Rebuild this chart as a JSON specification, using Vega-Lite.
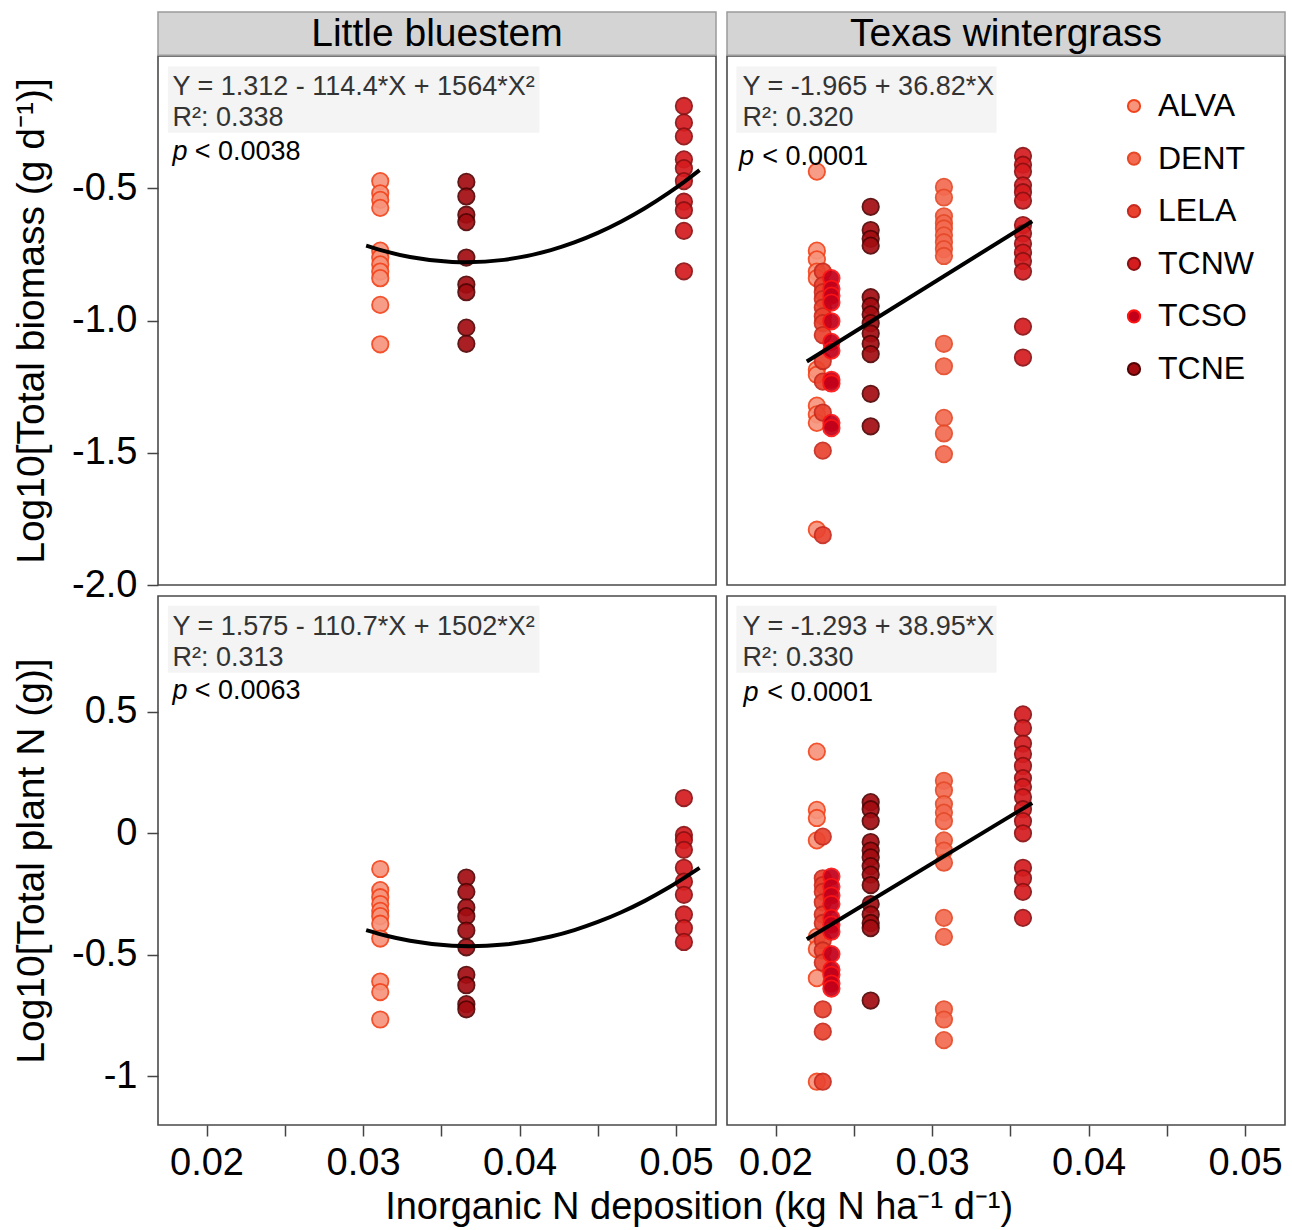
{
  "$schema": "https://vega.github.io/schema/vega-lite/v6.json",
  "padding": {"left": 11, "top": 10, "right": 4, "bottom": 4},
  "background": "white",
  "config": {
    "font": "Liberation Sans",
    "view": {"stroke": "#4a4a4a", "strokeWidth": 1.6},
    "axis": {"labelFont": "Liberation Sans", "labelFontSize": 38, "labelColor": "black", "titleFont": "Liberation Sans", "titleFontSize": 39, "titleFontWeight": "normal", "titleColor": "black", "tickColor": "#444", "tickSize": 11, "tickWidth": 1.5, "domain": false, "grid": false, "labelPadding": 8},
    "axisY": {"titlePadding": 20, "labelPadding": 10},
    "legend": {"orient": "none", "legendX": 960, "legendY": 34, "labelFont": "Liberation Sans", "labelFontSize": 32, "labelColor": "black", "symbolType": "circle", "symbolSize": 150, "symbolStrokeWidth": 2, "rowPadding": 20.6, "labelOffset": 8, "padding": 0, "symbolOpacity": 1}
  },
  "datasets": {
    "pts": [
      {"panel": "TL", "site": "ALVA", "dep": 0.0311, "val": -0.473},
      {"panel": "TL", "site": "ALVA", "dep": 0.0311, "val": -0.519},
      {"panel": "TL", "site": "ALVA", "dep": 0.0311, "val": -0.544},
      {"panel": "TL", "site": "ALVA", "dep": 0.0311, "val": -0.574},
      {"panel": "TL", "site": "ALVA", "dep": 0.0311, "val": -0.736},
      {"panel": "TL", "site": "ALVA", "dep": 0.0311, "val": -0.762},
      {"panel": "TL", "site": "ALVA", "dep": 0.0311, "val": -0.788},
      {"panel": "TL", "site": "ALVA", "dep": 0.0311, "val": -0.815},
      {"panel": "TL", "site": "ALVA", "dep": 0.0311, "val": -0.84},
      {"panel": "TL", "site": "ALVA", "dep": 0.0311, "val": -0.941},
      {"panel": "TL", "site": "ALVA", "dep": 0.0311, "val": -1.09},
      {"panel": "TL", "site": "TCNE", "dep": 0.0366, "val": -0.476},
      {"panel": "TL", "site": "TCNE", "dep": 0.0366, "val": -0.531},
      {"panel": "TL", "site": "TCNE", "dep": 0.0366, "val": -0.6},
      {"panel": "TL", "site": "TCNE", "dep": 0.0366, "val": -0.628},
      {"panel": "TL", "site": "TCNE", "dep": 0.0366, "val": -0.762},
      {"panel": "TL", "site": "TCNE", "dep": 0.0366, "val": -0.864},
      {"panel": "TL", "site": "TCNE", "dep": 0.0366, "val": -0.893},
      {"panel": "TL", "site": "TCNE", "dep": 0.0366, "val": -1.027},
      {"panel": "TL", "site": "TCNE", "dep": 0.0366, "val": -1.088},
      {"panel": "TL", "site": "TCNW", "dep": 0.0505, "val": -0.189},
      {"panel": "TL", "site": "TCNW", "dep": 0.0505, "val": -0.252},
      {"panel": "TL", "site": "TCNW", "dep": 0.0505, "val": -0.304},
      {"panel": "TL", "site": "TCNW", "dep": 0.0505, "val": -0.391},
      {"panel": "TL", "site": "TCNW", "dep": 0.0505, "val": -0.424},
      {"panel": "TL", "site": "TCNW", "dep": 0.0505, "val": -0.473},
      {"panel": "TL", "site": "TCNW", "dep": 0.0505, "val": -0.551},
      {"panel": "TL", "site": "TCNW", "dep": 0.0505, "val": -0.583},
      {"panel": "TL", "site": "TCNW", "dep": 0.0505, "val": -0.661},
      {"panel": "TL", "site": "TCNW", "dep": 0.0505, "val": -0.814},

      {"panel": "BL", "site": "ALVA", "dep": 0.0311, "val": -0.147},
      {"panel": "BL", "site": "ALVA", "dep": 0.0311, "val": -0.234},
      {"panel": "BL", "site": "ALVA", "dep": 0.0311, "val": -0.263},
      {"panel": "BL", "site": "ALVA", "dep": 0.0311, "val": -0.291},
      {"panel": "BL", "site": "ALVA", "dep": 0.0311, "val": -0.319},
      {"panel": "BL", "site": "ALVA", "dep": 0.0311, "val": -0.341},
      {"panel": "BL", "site": "ALVA", "dep": 0.0311, "val": -0.372},
      {"panel": "BL", "site": "ALVA", "dep": 0.0311, "val": -0.433},
      {"panel": "BL", "site": "ALVA", "dep": 0.0311, "val": -0.61},
      {"panel": "BL", "site": "ALVA", "dep": 0.0311, "val": -0.653},
      {"panel": "BL", "site": "ALVA", "dep": 0.0311, "val": -0.766},
      {"panel": "BL", "site": "TCNE", "dep": 0.0366, "val": -0.182},
      {"panel": "BL", "site": "TCNE", "dep": 0.0366, "val": -0.241},
      {"panel": "BL", "site": "TCNE", "dep": 0.0366, "val": -0.305},
      {"panel": "BL", "site": "TCNE", "dep": 0.0366, "val": -0.341},
      {"panel": "BL", "site": "TCNE", "dep": 0.0366, "val": -0.4},
      {"panel": "BL", "site": "TCNE", "dep": 0.0366, "val": -0.469},
      {"panel": "BL", "site": "TCNE", "dep": 0.0366, "val": -0.582},
      {"panel": "BL", "site": "TCNE", "dep": 0.0366, "val": -0.625},
      {"panel": "BL", "site": "TCNE", "dep": 0.0366, "val": -0.703},
      {"panel": "BL", "site": "TCNE", "dep": 0.0366, "val": -0.724},
      {"panel": "BL", "site": "TCNW", "dep": 0.0505, "val": 0.145},
      {"panel": "BL", "site": "TCNW", "dep": 0.0505, "val": -0.007},
      {"panel": "BL", "site": "TCNW", "dep": 0.0505, "val": -0.028},
      {"panel": "BL", "site": "TCNW", "dep": 0.0505, "val": -0.068},
      {"panel": "BL", "site": "TCNW", "dep": 0.0505, "val": -0.142},
      {"panel": "BL", "site": "TCNW", "dep": 0.0505, "val": -0.199},
      {"panel": "BL", "site": "TCNW", "dep": 0.0505, "val": -0.253},
      {"panel": "BL", "site": "TCNW", "dep": 0.0505, "val": -0.334},
      {"panel": "BL", "site": "TCNW", "dep": 0.0505, "val": -0.39},
      {"panel": "BL", "site": "TCNW", "dep": 0.0505, "val": -0.447},

      {"panel": "TR", "site": "ALVA", "dep": 0.02264, "val": -0.437},
      {"panel": "TR", "site": "ALVA", "dep": 0.02264, "val": -0.736},
      {"panel": "TR", "site": "ALVA", "dep": 0.02264, "val": -0.769},
      {"panel": "TR", "site": "ALVA", "dep": 0.02264, "val": -0.815},
      {"panel": "TR", "site": "ALVA", "dep": 0.02264, "val": -0.84},
      {"panel": "TR", "site": "ALVA", "dep": 0.02264, "val": -1.186},
      {"panel": "TR", "site": "ALVA", "dep": 0.02264, "val": -1.205},
      {"panel": "TR", "site": "ALVA", "dep": 0.02264, "val": -1.322},
      {"panel": "TR", "site": "ALVA", "dep": 0.02264, "val": -1.355},
      {"panel": "TR", "site": "ALVA", "dep": 0.02264, "val": -1.387},
      {"panel": "TR", "site": "ALVA", "dep": 0.02264, "val": -1.791},
      {"panel": "TR", "site": "LELA", "dep": 0.02302, "val": -0.815},
      {"panel": "TR", "site": "LELA", "dep": 0.02302, "val": -0.867},
      {"panel": "TR", "site": "LELA", "dep": 0.02302, "val": -0.893},
      {"panel": "TR", "site": "LELA", "dep": 0.02302, "val": -0.919},
      {"panel": "TR", "site": "LELA", "dep": 0.02302, "val": -0.951},
      {"panel": "TR", "site": "LELA", "dep": 0.02302, "val": -0.984},
      {"panel": "TR", "site": "LELA", "dep": 0.02302, "val": -1.01},
      {"panel": "TR", "site": "LELA", "dep": 0.02302, "val": -1.055},
      {"panel": "TR", "site": "LELA", "dep": 0.02302, "val": -1.153},
      {"panel": "TR", "site": "LELA", "dep": 0.02302, "val": -1.231},
      {"panel": "TR", "site": "LELA", "dep": 0.02302, "val": -1.348},
      {"panel": "TR", "site": "LELA", "dep": 0.02302, "val": -1.492},
      {"panel": "TR", "site": "LELA", "dep": 0.02302, "val": -1.811},
      {"panel": "TR", "site": "TCSO", "dep": 0.02357, "val": -0.84},
      {"panel": "TR", "site": "TCSO", "dep": 0.02357, "val": -0.88},
      {"panel": "TR", "site": "TCSO", "dep": 0.02357, "val": -0.906},
      {"panel": "TR", "site": "TCSO", "dep": 0.02357, "val": -0.932},
      {"panel": "TR", "site": "TCSO", "dep": 0.02357, "val": -1.003},
      {"panel": "TR", "site": "TCSO", "dep": 0.02357, "val": -1.081},
      {"panel": "TR", "site": "TCSO", "dep": 0.02357, "val": -1.114},
      {"panel": "TR", "site": "TCSO", "dep": 0.02357, "val": -1.224},
      {"panel": "TR", "site": "TCSO", "dep": 0.02357, "val": -1.238},
      {"panel": "TR", "site": "TCSO", "dep": 0.02357, "val": -1.387},
      {"panel": "TR", "site": "TCSO", "dep": 0.02357, "val": -1.407},
      {"panel": "TR", "site": "TCNE", "dep": 0.02608, "val": -0.57},
      {"panel": "TR", "site": "TCNE", "dep": 0.02608, "val": -0.658},
      {"panel": "TR", "site": "TCNE", "dep": 0.02608, "val": -0.691},
      {"panel": "TR", "site": "TCNE", "dep": 0.02608, "val": -0.717},
      {"panel": "TR", "site": "TCNE", "dep": 0.02608, "val": -0.912},
      {"panel": "TR", "site": "TCNE", "dep": 0.02608, "val": -0.945},
      {"panel": "TR", "site": "TCNE", "dep": 0.02608, "val": -0.977},
      {"panel": "TR", "site": "TCNE", "dep": 0.02608, "val": -1.01},
      {"panel": "TR", "site": "TCNE", "dep": 0.02608, "val": -1.049},
      {"panel": "TR", "site": "TCNE", "dep": 0.02608, "val": -1.088},
      {"panel": "TR", "site": "TCNE", "dep": 0.02608, "val": -1.127},
      {"panel": "TR", "site": "TCNE", "dep": 0.02608, "val": -1.277},
      {"panel": "TR", "site": "TCNE", "dep": 0.02608, "val": -1.4},
      {"panel": "TR", "site": "DENT", "dep": 0.03076, "val": -0.495},
      {"panel": "TR", "site": "DENT", "dep": 0.03076, "val": -0.535},
      {"panel": "TR", "site": "DENT", "dep": 0.03076, "val": -0.606},
      {"panel": "TR", "site": "DENT", "dep": 0.03076, "val": -0.632},
      {"panel": "TR", "site": "DENT", "dep": 0.03076, "val": -0.652},
      {"panel": "TR", "site": "DENT", "dep": 0.03076, "val": -0.678},
      {"panel": "TR", "site": "DENT", "dep": 0.03076, "val": -0.704},
      {"panel": "TR", "site": "DENT", "dep": 0.03076, "val": -0.73},
      {"panel": "TR", "site": "DENT", "dep": 0.03076, "val": -0.756},
      {"panel": "TR", "site": "DENT", "dep": 0.03076, "val": -1.088},
      {"panel": "TR", "site": "DENT", "dep": 0.03076, "val": -1.173},
      {"panel": "TR", "site": "DENT", "dep": 0.03076, "val": -1.368},
      {"panel": "TR", "site": "DENT", "dep": 0.03076, "val": -1.427},
      {"panel": "TR", "site": "DENT", "dep": 0.03076, "val": -1.505},
      {"panel": "TR", "site": "TCNW", "dep": 0.03581, "val": -0.378},
      {"panel": "TR", "site": "TCNW", "dep": 0.03581, "val": -0.411},
      {"panel": "TR", "site": "TCNW", "dep": 0.03581, "val": -0.437},
      {"panel": "TR", "site": "TCNW", "dep": 0.03581, "val": -0.489},
      {"panel": "TR", "site": "TCNW", "dep": 0.03581, "val": -0.515},
      {"panel": "TR", "site": "TCNW", "dep": 0.03581, "val": -0.547},
      {"panel": "TR", "site": "TCNW", "dep": 0.03581, "val": -0.639},
      {"panel": "TR", "site": "TCNW", "dep": 0.03581, "val": -0.671},
      {"panel": "TR", "site": "TCNW", "dep": 0.03581, "val": -0.71},
      {"panel": "TR", "site": "TCNW", "dep": 0.03581, "val": -0.743},
      {"panel": "TR", "site": "TCNW", "dep": 0.03581, "val": -0.775},
      {"panel": "TR", "site": "TCNW", "dep": 0.03581, "val": -0.815},
      {"panel": "TR", "site": "TCNW", "dep": 0.03581, "val": -1.023},
      {"panel": "TR", "site": "TCNW", "dep": 0.03581, "val": -1.14},

      {"panel": "BR", "site": "ALVA", "dep": 0.02264, "val": 0.336},
      {"panel": "BR", "site": "ALVA", "dep": 0.02264, "val": 0.096},
      {"panel": "BR", "site": "ALVA", "dep": 0.02264, "val": 0.063},
      {"panel": "BR", "site": "ALVA", "dep": 0.02264, "val": -0.029},
      {"panel": "BR", "site": "ALVA", "dep": 0.02264, "val": -0.426},
      {"panel": "BR", "site": "ALVA", "dep": 0.02264, "val": -0.476},
      {"panel": "BR", "site": "ALVA", "dep": 0.02264, "val": -0.596},
      {"panel": "BR", "site": "ALVA", "dep": 0.02264, "val": -1.022},
      {"panel": "BR", "site": "LELA", "dep": 0.02302, "val": -0.014},
      {"panel": "BR", "site": "LELA", "dep": 0.02302, "val": -0.185},
      {"panel": "BR", "site": "LELA", "dep": 0.02302, "val": -0.213},
      {"panel": "BR", "site": "LELA", "dep": 0.02302, "val": -0.241},
      {"panel": "BR", "site": "LELA", "dep": 0.02302, "val": -0.284},
      {"panel": "BR", "site": "LELA", "dep": 0.02302, "val": -0.334},
      {"panel": "BR", "site": "LELA", "dep": 0.02302, "val": -0.369},
      {"panel": "BR", "site": "LELA", "dep": 0.02302, "val": -0.44},
      {"panel": "BR", "site": "LELA", "dep": 0.02302, "val": -0.482},
      {"panel": "BR", "site": "LELA", "dep": 0.02302, "val": -0.532},
      {"panel": "BR", "site": "LELA", "dep": 0.02302, "val": -0.724},
      {"panel": "BR", "site": "LELA", "dep": 0.02302, "val": -0.816},
      {"panel": "BR", "site": "LELA", "dep": 0.02302, "val": -1.022},
      {"panel": "BR", "site": "TCSO", "dep": 0.02357, "val": -0.178},
      {"panel": "BR", "site": "TCSO", "dep": 0.02357, "val": -0.22},
      {"panel": "BR", "site": "TCSO", "dep": 0.02357, "val": -0.256},
      {"panel": "BR", "site": "TCSO", "dep": 0.02357, "val": -0.291},
      {"panel": "BR", "site": "TCSO", "dep": 0.02357, "val": -0.348},
      {"panel": "BR", "site": "TCSO", "dep": 0.02357, "val": -0.376},
      {"panel": "BR", "site": "TCSO", "dep": 0.02357, "val": -0.405},
      {"panel": "BR", "site": "TCSO", "dep": 0.02357, "val": -0.497},
      {"panel": "BR", "site": "TCSO", "dep": 0.02357, "val": -0.561},
      {"panel": "BR", "site": "TCSO", "dep": 0.02357, "val": -0.582},
      {"panel": "BR", "site": "TCSO", "dep": 0.02357, "val": -0.618},
      {"panel": "BR", "site": "TCSO", "dep": 0.02357, "val": -0.639},
      {"panel": "BR", "site": "TCNE", "dep": 0.02608, "val": 0.128},
      {"panel": "BR", "site": "TCNE", "dep": 0.02608, "val": 0.099},
      {"panel": "BR", "site": "TCNE", "dep": 0.02608, "val": 0.05},
      {"panel": "BR", "site": "TCNE", "dep": 0.02608, "val": -0.036},
      {"panel": "BR", "site": "TCNE", "dep": 0.02608, "val": -0.071},
      {"panel": "BR", "site": "TCNE", "dep": 0.02608, "val": -0.099},
      {"panel": "BR", "site": "TCNE", "dep": 0.02608, "val": -0.135},
      {"panel": "BR", "site": "TCNE", "dep": 0.02608, "val": -0.17},
      {"panel": "BR", "site": "TCNE", "dep": 0.02608, "val": -0.213},
      {"panel": "BR", "site": "TCNE", "dep": 0.02608, "val": -0.291},
      {"panel": "BR", "site": "TCNE", "dep": 0.02608, "val": -0.334},
      {"panel": "BR", "site": "TCNE", "dep": 0.02608, "val": -0.369},
      {"panel": "BR", "site": "TCNE", "dep": 0.02608, "val": -0.39},
      {"panel": "BR", "site": "TCNE", "dep": 0.02608, "val": -0.688},
      {"panel": "BR", "site": "DENT", "dep": 0.03076, "val": 0.216},
      {"panel": "BR", "site": "DENT", "dep": 0.03076, "val": 0.177},
      {"panel": "BR", "site": "DENT", "dep": 0.03076, "val": 0.12},
      {"panel": "BR", "site": "DENT", "dep": 0.03076, "val": 0.085},
      {"panel": "BR", "site": "DENT", "dep": 0.03076, "val": 0.05},
      {"panel": "BR", "site": "DENT", "dep": 0.03076, "val": -0.029},
      {"panel": "BR", "site": "DENT", "dep": 0.03076, "val": -0.071},
      {"panel": "BR", "site": "DENT", "dep": 0.03076, "val": -0.121},
      {"panel": "BR", "site": "DENT", "dep": 0.03076, "val": -0.348},
      {"panel": "BR", "site": "DENT", "dep": 0.03076, "val": -0.426},
      {"panel": "BR", "site": "DENT", "dep": 0.03076, "val": -0.724},
      {"panel": "BR", "site": "DENT", "dep": 0.03076, "val": -0.766},
      {"panel": "BR", "site": "DENT", "dep": 0.03076, "val": -0.851},
      {"panel": "BR", "site": "TCNW", "dep": 0.03581, "val": 0.489},
      {"panel": "BR", "site": "TCNW", "dep": 0.03581, "val": 0.433},
      {"panel": "BR", "site": "TCNW", "dep": 0.03581, "val": 0.369},
      {"panel": "BR", "site": "TCNW", "dep": 0.03581, "val": 0.326},
      {"panel": "BR", "site": "TCNW", "dep": 0.03581, "val": 0.277},
      {"panel": "BR", "site": "TCNW", "dep": 0.03581, "val": 0.227},
      {"panel": "BR", "site": "TCNW", "dep": 0.03581, "val": 0.191},
      {"panel": "BR", "site": "TCNW", "dep": 0.03581, "val": 0.149},
      {"panel": "BR", "site": "TCNW", "dep": 0.03581, "val": 0.099},
      {"panel": "BR", "site": "TCNW", "dep": 0.03581, "val": 0.05},
      {"panel": "BR", "site": "TCNW", "dep": 0.03581, "val": 0.0},
      {"panel": "BR", "site": "TCNW", "dep": 0.03581, "val": -0.142},
      {"panel": "BR", "site": "TCNW", "dep": 0.03581, "val": -0.185},
      {"panel": "BR", "site": "TCNW", "dep": 0.03581, "val": -0.241},
      {"panel": "BR", "site": "TCNW", "dep": 0.03581, "val": -0.348}
    ],
    "fits": [
      {"panel": "TL", "dep": 0.0302, "val": -0.7165},
      {"panel": "TL", "dep": 0.0315, "val": -0.7397},
      {"panel": "TL", "dep": 0.033, "val": -0.76},
      {"panel": "TL", "dep": 0.0357, "val": -0.7788},
      {"panel": "TL", "dep": 0.0366, "val": -0.78},
      {"panel": "TL", "dep": 0.039, "val": -0.7708},
      {"panel": "TL", "dep": 0.042, "val": -0.7339},
      {"panel": "TL", "dep": 0.0435, "val": -0.7049},
      {"panel": "TL", "dep": 0.045, "val": -0.6689},
      {"panel": "TL", "dep": 0.0465, "val": -0.6258},
      {"panel": "TL", "dep": 0.048, "val": -0.5757},
      {"panel": "TL", "dep": 0.0495, "val": -0.5186},
      {"panel": "TL", "dep": 0.0505, "val": -0.4766},
      {"panel": "TL", "dep": 0.0515, "val": -0.4316},
      {"panel": "BL", "dep": 0.0302, "val": -0.3983},
      {"panel": "BL", "dep": 0.0315, "val": -0.4217},
      {"panel": "BL", "dep": 0.033, "val": -0.4424},
      {"panel": "BL", "dep": 0.0357, "val": -0.4627},
      {"panel": "BL", "dep": 0.0368, "val": -0.4647},
      {"panel": "BL", "dep": 0.039, "val": -0.4578},
      {"panel": "BL", "dep": 0.042, "val": -0.4249},
      {"panel": "BL", "dep": 0.0435, "val": -0.3983},
      {"panel": "BL", "dep": 0.045, "val": -0.3649},
      {"panel": "BL", "dep": 0.0465, "val": -0.3249},
      {"panel": "BL", "dep": 0.048, "val": -0.278},
      {"panel": "BL", "dep": 0.0495, "val": -0.2244},
      {"panel": "BL", "dep": 0.0515, "val": -0.1424},
      {"panel": "TR", "dep": 0.022, "val": -1.155},
      {"panel": "TR", "dep": 0.0364, "val": -0.6248},
      {"panel": "BR", "dep": 0.022, "val": -0.4361},
      {"panel": "BR", "dep": 0.0364, "val": 0.1248}
    ],
    "notes": [
      {"panel": "TL", "strip": "Little bluestem", "eq": "Y = 1.312 - 114.4*X + 1564*X²", "r2": "R²: 0.338", "p": "< 0.0038"},
      {"panel": "TR", "strip": "Texas wintergrass", "eq": "Y = -1.965 + 36.82*X", "r2": "R²: 0.320", "p": "< 0.0001"},
      {"panel": "BL", "strip": "", "eq": "Y = 1.575 - 110.7*X + 1502*X²", "r2": "R²: 0.313", "p": "< 0.0063"},
      {"panel": "BR", "strip": "", "eq": "Y = -1.293 + 38.95*X", "r2": "R²: 0.330", "p": "< 0.0001"}
    ]
  },
  "columns": 2,
  "spacing": 11,
  "bounds": "flush",
  "title": {"text": "Inorganic N deposition (kg N ha⁻¹ d⁻¹)", "orient": "bottom", "anchor": "middle", "fontSize": 38, "font": "Liberation Sans", "fontWeight": "normal", "color": "black", "offset": 6, "dx": 50},
  "concat": [
    {
      "width": 558, "height": 529,
      "layer": [
        {"data": {"name": "notes"}, "transform": [{"filter": "datum.panel == 'TL'"}],
         "mark": {"type": "rect", "fill": "#d4d4d4", "stroke": "#9a9a9a", "strokeWidth": 1.5},
         "encoding": {
           "x": {"datum": 0.0169, "type": "quantitative", "scale": {"domain": [0.0169, 0.05255], "nice": false, "zero": false}, "axis": null},
           "x2": {"datum": 0.05255},
           "y": {"datum": 0.1664, "type": "quantitative", "scale": {"domain": [-2, 0], "nice": false, "zero": false}, "axis": {"title": "Log10[Total biomass (g d⁻¹)]", "values": [-2, -1.5, -1, -0.5], "labelExpr": "datum.value % 1 == 0 ? toString(datum.value) + '.0' : toString(datum.value)"}},
           "y2": {"datum": 0.003}}},
        {"data": {"name": "notes"}, "transform": [{"filter": "datum.panel == 'TL'"}],
         "mark": {"type": "text", "fontSize": 39, "font": "Liberation Sans", "color": "black", "baseline": "middle", "align": "center"},
         "encoding": {
           "x": {"datum": 0.034725, "type": "quantitative", "axis": null},
           "y": {"datum": 0.0832, "type": "quantitative", "axis": {"title": "Log10[Total biomass (g d⁻¹)]", "values": [-2, -1.5, -1, -0.5], "labelExpr": "datum.value % 1 == 0 ? toString(datum.value) + '.0' : toString(datum.value)"}},
           "text": {"field": "strip"}}},
        {"data": {"name": "notes"}, "transform": [{"filter": "datum.panel == 'TL'"}],
         "mark": {"type": "rect", "fill": "#f4f4f4"},
         "encoding": {
           "x": {"datum": 0.01753, "type": "quantitative", "axis": null},
           "x2": {"datum": 0.04127},
           "y": {"datum": -0.0397, "type": "quantitative", "axis": {"title": "Log10[Total biomass (g d⁻¹)]", "values": [-2, -1.5, -1, -0.5], "labelExpr": "datum.value % 1 == 0 ? toString(datum.value) + '.0' : toString(datum.value)"}},
           "y2": {"datum": -0.2897}}},
        {"data": {"name": "pts"}, "transform": [{"filter": "datum.panel == 'TL'"}],
         "mark": {"type": "circle", "size": 270, "strokeWidth": 1.8, "opacity": 0.92},
         "encoding": {
           "x": {"field": "dep", "type": "quantitative", "axis": null},
           "y": {"field": "val", "type": "quantitative", "axis": {"title": "Log10[Total biomass (g d⁻¹)]", "values": [-2, -1.5, -1, -0.5], "labelExpr": "datum.value % 1 == 0 ? toString(datum.value) + '.0' : toString(datum.value)"}},
           "fill": {"field": "site", "type": "nominal", "title": null, "scale": {"domain": ["ALVA", "DENT", "LELA", "TCNW", "TCSO", "TCNE"], "range": ["#f7947c", "#f36b51", "#e9432f", "#d51c1f", "#c2001a", "#a30d12"]}},
           "stroke": {"field": "site", "type": "nominal", "title": null, "scale": {"domain": ["ALVA", "DENT", "LELA", "TCNW", "TCSO", "TCNE"], "range": ["#f2441c", "#e54a28", "#c72a1e", "#8c1012", "#ff1414", "#520404"]}}}},
        {"data": {"name": "fits"}, "transform": [{"filter": "datum.panel == 'TL'"}],
         "mark": {"type": "line", "color": "black", "strokeWidth": 4, "interpolate": "monotone"},
         "encoding": {
           "x": {"field": "dep", "type": "quantitative", "axis": null},
           "y": {"field": "val", "type": "quantitative", "axis": {"title": "Log10[Total biomass (g d⁻¹)]", "values": [-2, -1.5, -1, -0.5], "labelExpr": "datum.value % 1 == 0 ? toString(datum.value) + '.0' : toString(datum.value)"}}}},
        {"data": {"name": "notes"}, "transform": [{"filter": "datum.panel == 'TL'"}],
         "mark": {"type": "text", "align": "left", "baseline": "alphabetic", "fontSize": 27, "font": "Liberation Sans", "color": "#333"},
         "encoding": {"x": {"datum": 0.01782, "type": "quantitative", "axis": null}, "y": {"datum": -0.1475, "type": "quantitative", "axis": {"title": "Log10[Total biomass (g d⁻¹)]", "values": [-2, -1.5, -1, -0.5], "labelExpr": "datum.value % 1 == 0 ? toString(datum.value) + '.0' : toString(datum.value)"}}, "text": {"field": "eq"}}},
        {"data": {"name": "notes"}, "transform": [{"filter": "datum.panel == 'TL'"}],
         "mark": {"type": "text", "align": "left", "baseline": "alphabetic", "fontSize": 27, "font": "Liberation Sans", "color": "#333"},
         "encoding": {"x": {"datum": 0.01782, "type": "quantitative", "axis": null}, "y": {"datum": -0.2647, "type": "quantitative", "axis": {"title": "Log10[Total biomass (g d⁻¹)]", "values": [-2, -1.5, -1, -0.5], "labelExpr": "datum.value % 1 == 0 ? toString(datum.value) + '.0' : toString(datum.value)"}}, "text": {"field": "r2"}}},
        {"data": {"name": "notes"}, "transform": [{"filter": "datum.panel == 'TL'"}],
         "mark": {"type": "text", "align": "left", "baseline": "alphabetic", "fontSize": 27, "font": "Liberation Sans", "fontStyle": "italic", "color": "black", "text": "p"},
         "encoding": {"x": {"datum": 0.01782, "type": "quantitative", "axis": null}, "y": {"datum": -0.395, "type": "quantitative", "axis": {"title": "Log10[Total biomass (g d⁻¹)]", "values": [-2, -1.5, -1, -0.5], "labelExpr": "datum.value % 1 == 0 ? toString(datum.value) + '.0' : toString(datum.value)"}}}},
        {"data": {"name": "notes"}, "transform": [{"filter": "datum.panel == 'TL'"}],
         "mark": {"type": "text", "align": "left", "baseline": "alphabetic", "fontSize": 27, "font": "Liberation Sans", "color": "black"},
         "encoding": {"x": {"datum": 0.01925, "type": "quantitative", "axis": null}, "y": {"datum": -0.395, "type": "quantitative", "axis": {"title": "Log10[Total biomass (g d⁻¹)]", "values": [-2, -1.5, -1, -0.5], "labelExpr": "datum.value % 1 == 0 ? toString(datum.value) + '.0' : toString(datum.value)"}}, "text": {"field": "p"}}}
      ]
    },
    {
      "width": 558, "height": 529,
      "layer": [
        {"data": {"name": "notes"}, "transform": [{"filter": "datum.panel == 'TR'"}],
         "mark": {"type": "rect", "fill": "#d4d4d4", "stroke": "#9a9a9a", "strokeWidth": 1.5},
         "encoding": {
           "x": {"datum": 0.0169, "type": "quantitative", "scale": {"domain": [0.0169, 0.05255], "nice": false, "zero": false}, "axis": null},
           "x2": {"datum": 0.05255},
           "y": {"datum": 0.1664, "type": "quantitative", "scale": {"domain": [-2, 0], "nice": false, "zero": false}, "axis": null},
           "y2": {"datum": 0.003}}},
        {"data": {"name": "notes"}, "transform": [{"filter": "datum.panel == 'TR'"}],
         "mark": {"type": "text", "fontSize": 39, "font": "Liberation Sans", "color": "black", "baseline": "middle", "align": "center"},
         "encoding": {
           "x": {"datum": 0.034725, "type": "quantitative", "axis": null},
           "y": {"datum": 0.0832, "type": "quantitative", "axis": null},
           "text": {"field": "strip"}}},
        {"data": {"name": "notes"}, "transform": [{"filter": "datum.panel == 'TR'"}],
         "mark": {"type": "rect", "fill": "#f4f4f4"},
         "encoding": {
           "x": {"datum": 0.0175, "type": "quantitative", "axis": null},
           "x2": {"datum": 0.03412},
           "y": {"datum": -0.0397, "type": "quantitative", "axis": null},
           "y2": {"datum": -0.2897}}},
        {"data": {"name": "pts"}, "transform": [{"filter": "datum.panel == 'TR'"}],
         "mark": {"type": "circle", "size": 270, "strokeWidth": 1.8, "opacity": 0.92},
         "encoding": {
           "x": {"field": "dep", "type": "quantitative", "axis": null},
           "y": {"field": "val", "type": "quantitative", "axis": null},
           "fill": {"field": "site", "type": "nominal", "title": null, "scale": {"domain": ["ALVA", "DENT", "LELA", "TCNW", "TCSO", "TCNE"], "range": ["#f7947c", "#f36b51", "#e9432f", "#d51c1f", "#c2001a", "#a30d12"]}},
           "stroke": {"field": "site", "type": "nominal", "title": null, "scale": {"domain": ["ALVA", "DENT", "LELA", "TCNW", "TCSO", "TCNE"], "range": ["#f2441c", "#e54a28", "#c72a1e", "#8c1012", "#ff1414", "#520404"]}}}},
        {"data": {"name": "fits"}, "transform": [{"filter": "datum.panel == 'TR'"}],
         "mark": {"type": "line", "color": "black", "strokeWidth": 4},
         "encoding": {
           "x": {"field": "dep", "type": "quantitative", "axis": null},
           "y": {"field": "val", "type": "quantitative", "axis": null}}},
        {"data": {"name": "notes"}, "transform": [{"filter": "datum.panel == 'TR'"}],
         "mark": {"type": "text", "align": "left", "baseline": "alphabetic", "fontSize": 27, "font": "Liberation Sans", "color": "#333"},
         "encoding": {"x": {"datum": 0.01789, "type": "quantitative", "axis": null}, "y": {"datum": -0.1475, "type": "quantitative", "axis": null}, "text": {"field": "eq"}}},
        {"data": {"name": "notes"}, "transform": [{"filter": "datum.panel == 'TR'"}],
         "mark": {"type": "text", "align": "left", "baseline": "alphabetic", "fontSize": 27, "font": "Liberation Sans", "color": "#333"},
         "encoding": {"x": {"datum": 0.01789, "type": "quantitative", "axis": null}, "y": {"datum": -0.2647, "type": "quantitative", "axis": null}, "text": {"field": "r2"}}},
        {"data": {"name": "notes"}, "transform": [{"filter": "datum.panel == 'TR'"}],
         "mark": {"type": "text", "align": "left", "baseline": "alphabetic", "fontSize": 27, "font": "Liberation Sans", "fontStyle": "italic", "color": "black", "text": "p"},
         "encoding": {"x": {"datum": 0.01766, "type": "quantitative", "axis": null}, "y": {"datum": -0.411, "type": "quantitative", "axis": null}}},
        {"data": {"name": "notes"}, "transform": [{"filter": "datum.panel == 'TR'"}],
         "mark": {"type": "text", "align": "left", "baseline": "alphabetic", "fontSize": 27, "font": "Liberation Sans", "color": "black"},
         "encoding": {"x": {"datum": 0.01915, "type": "quantitative", "axis": null}, "y": {"datum": -0.411, "type": "quantitative", "axis": null}, "text": {"field": "p"}}}
      ]
    },
    {
      "width": 558, "height": 529,
      "layer": [
        {"data": {"name": "notes"}, "transform": [{"filter": "datum.panel == 'BL'"}],
         "mark": {"type": "rect", "fill": "#f4f4f4"},
         "encoding": {
           "x": {"datum": 0.01753, "type": "quantitative", "scale": {"domain": [0.0169, 0.05255], "nice": false, "zero": false}, "axis": {"title": null, "values": [0.02, 0.025, 0.03, 0.035, 0.04, 0.045, 0.05], "labelExpr": "round(datum.value*1000) % 10 == 0 ? toString(round(datum.value*100)/100) : ''"}},
           "x2": {"datum": 0.04127},
           "y": {"datum": 0.936, "type": "quantitative", "scale": {"domain": [-1.2, 0.976], "nice": false, "zero": false}, "axis": {"title": "Log10[Total plant N (g)]", "values": [-1, -0.5, 0, 0.5], "labelExpr": "toString(datum.value)"}},
           "y2": {"datum": 0.66}}},
        {"data": {"name": "pts"}, "transform": [{"filter": "datum.panel == 'BL'"}],
         "mark": {"type": "circle", "size": 270, "strokeWidth": 1.8, "opacity": 0.92},
         "encoding": {
           "x": {"field": "dep", "type": "quantitative", "axis": {"title": null, "values": [0.02, 0.025, 0.03, 0.035, 0.04, 0.045, 0.05], "labelExpr": "round(datum.value*1000) % 10 == 0 ? toString(round(datum.value*100)/100) : ''"}},
           "y": {"field": "val", "type": "quantitative", "axis": {"title": "Log10[Total plant N (g)]", "values": [-1, -0.5, 0, 0.5], "labelExpr": "toString(datum.value)"}},
           "fill": {"field": "site", "type": "nominal", "title": null, "scale": {"domain": ["ALVA", "DENT", "LELA", "TCNW", "TCSO", "TCNE"], "range": ["#f7947c", "#f36b51", "#e9432f", "#d51c1f", "#c2001a", "#a30d12"]}},
           "stroke": {"field": "site", "type": "nominal", "title": null, "scale": {"domain": ["ALVA", "DENT", "LELA", "TCNW", "TCSO", "TCNE"], "range": ["#f2441c", "#e54a28", "#c72a1e", "#8c1012", "#ff1414", "#520404"]}}}},
        {"data": {"name": "fits"}, "transform": [{"filter": "datum.panel == 'BL'"}],
         "mark": {"type": "line", "color": "black", "strokeWidth": 4, "interpolate": "monotone"},
         "encoding": {
           "x": {"field": "dep", "type": "quantitative", "axis": {"title": null, "values": [0.02, 0.025, 0.03, 0.035, 0.04, 0.045, 0.05], "labelExpr": "round(datum.value*1000) % 10 == 0 ? toString(round(datum.value*100)/100) : ''"}},
           "y": {"field": "val", "type": "quantitative", "axis": {"title": "Log10[Total plant N (g)]", "values": [-1, -0.5, 0, 0.5], "labelExpr": "toString(datum.value)"}}}},
        {"data": {"name": "notes"}, "transform": [{"filter": "datum.panel == 'BL'"}],
         "mark": {"type": "text", "align": "left", "baseline": "alphabetic", "fontSize": 27, "font": "Liberation Sans", "color": "#333"},
         "encoding": {"x": {"datum": 0.01782, "type": "quantitative", "axis": {"title": null, "values": [0.02, 0.025, 0.03, 0.035, 0.04, 0.045, 0.05], "labelExpr": "round(datum.value*1000) % 10 == 0 ? toString(round(datum.value*100)/100) : ''"}}, "y": {"datum": 0.816, "type": "quantitative", "axis": {"title": "Log10[Total plant N (g)]", "values": [-1, -0.5, 0, 0.5], "labelExpr": "toString(datum.value)"}}, "text": {"field": "eq"}}},
        {"data": {"name": "notes"}, "transform": [{"filter": "datum.panel == 'BL'"}],
         "mark": {"type": "text", "align": "left", "baseline": "alphabetic", "fontSize": 27, "font": "Liberation Sans", "color": "#333"},
         "encoding": {"x": {"datum": 0.01782, "type": "quantitative", "axis": {"title": null, "values": [0.02, 0.025, 0.03, 0.035, 0.04, 0.045, 0.05], "labelExpr": "round(datum.value*1000) % 10 == 0 ? toString(round(datum.value*100)/100) : ''"}}, "y": {"datum": 0.688, "type": "quantitative", "axis": {"title": "Log10[Total plant N (g)]", "values": [-1, -0.5, 0, 0.5], "labelExpr": "toString(datum.value)"}}, "text": {"field": "r2"}}},
        {"data": {"name": "notes"}, "transform": [{"filter": "datum.panel == 'BL'"}],
         "mark": {"type": "text", "align": "left", "baseline": "alphabetic", "fontSize": 27, "font": "Liberation Sans", "fontStyle": "italic", "color": "black", "text": "p"},
         "encoding": {"x": {"datum": 0.01782, "type": "quantitative", "axis": {"title": null, "values": [0.02, 0.025, 0.03, 0.035, 0.04, 0.045, 0.05], "labelExpr": "round(datum.value*1000) % 10 == 0 ? toString(round(datum.value*100)/100) : ''"}}, "y": {"datum": 0.5505, "type": "quantitative", "axis": {"title": "Log10[Total plant N (g)]", "values": [-1, -0.5, 0, 0.5], "labelExpr": "toString(datum.value)"}}}},
        {"data": {"name": "notes"}, "transform": [{"filter": "datum.panel == 'BL'"}],
         "mark": {"type": "text", "align": "left", "baseline": "alphabetic", "fontSize": 27, "font": "Liberation Sans", "color": "black"},
         "encoding": {"x": {"datum": 0.01925, "type": "quantitative", "axis": {"title": null, "values": [0.02, 0.025, 0.03, 0.035, 0.04, 0.045, 0.05], "labelExpr": "round(datum.value*1000) % 10 == 0 ? toString(round(datum.value*100)/100) : ''"}}, "y": {"datum": 0.5505, "type": "quantitative", "axis": {"title": "Log10[Total plant N (g)]", "values": [-1, -0.5, 0, 0.5], "labelExpr": "toString(datum.value)"}}, "text": {"field": "p"}}}
      ]
    },
    {
      "width": 558, "height": 529,
      "layer": [
        {"data": {"name": "notes"}, "transform": [{"filter": "datum.panel == 'BR'"}],
         "mark": {"type": "rect", "fill": "#f4f4f4"},
         "encoding": {
           "x": {"datum": 0.0175, "type": "quantitative", "scale": {"domain": [0.0169, 0.05255], "nice": false, "zero": false}, "axis": {"title": null, "values": [0.02, 0.025, 0.03, 0.035, 0.04, 0.045, 0.05], "labelExpr": "round(datum.value*1000) % 10 == 0 ? toString(round(datum.value*100)/100) : ''"}},
           "x2": {"datum": 0.03412},
           "y": {"datum": 0.936, "type": "quantitative", "scale": {"domain": [-1.2, 0.976], "nice": false, "zero": false}, "axis": null},
           "y2": {"datum": 0.66}}},
        {"data": {"name": "pts"}, "transform": [{"filter": "datum.panel == 'BR'"}],
         "mark": {"type": "circle", "size": 270, "strokeWidth": 1.8, "opacity": 0.92},
         "encoding": {
           "x": {"field": "dep", "type": "quantitative", "axis": {"title": null, "values": [0.02, 0.025, 0.03, 0.035, 0.04, 0.045, 0.05], "labelExpr": "round(datum.value*1000) % 10 == 0 ? toString(round(datum.value*100)/100) : ''"}},
           "y": {"field": "val", "type": "quantitative", "axis": null},
           "fill": {"field": "site", "type": "nominal", "title": null, "scale": {"domain": ["ALVA", "DENT", "LELA", "TCNW", "TCSO", "TCNE"], "range": ["#f7947c", "#f36b51", "#e9432f", "#d51c1f", "#c2001a", "#a30d12"]}},
           "stroke": {"field": "site", "type": "nominal", "title": null, "scale": {"domain": ["ALVA", "DENT", "LELA", "TCNW", "TCSO", "TCNE"], "range": ["#f2441c", "#e54a28", "#c72a1e", "#8c1012", "#ff1414", "#520404"]}}}},
        {"data": {"name": "fits"}, "transform": [{"filter": "datum.panel == 'BR'"}],
         "mark": {"type": "line", "color": "black", "strokeWidth": 4},
         "encoding": {
           "x": {"field": "dep", "type": "quantitative", "axis": {"title": null, "values": [0.02, 0.025, 0.03, 0.035, 0.04, 0.045, 0.05], "labelExpr": "round(datum.value*1000) % 10 == 0 ? toString(round(datum.value*100)/100) : ''"}},
           "y": {"field": "val", "type": "quantitative", "axis": null}}},
        {"data": {"name": "notes"}, "transform": [{"filter": "datum.panel == 'BR'"}],
         "mark": {"type": "text", "align": "left", "baseline": "alphabetic", "fontSize": 27, "font": "Liberation Sans", "color": "#333"},
         "encoding": {"x": {"datum": 0.01789, "type": "quantitative", "axis": {"title": null, "values": [0.02, 0.025, 0.03, 0.035, 0.04, 0.045, 0.05], "labelExpr": "round(datum.value*1000) % 10 == 0 ? toString(round(datum.value*100)/100) : ''"}}, "y": {"datum": 0.816, "type": "quantitative", "axis": null}, "text": {"field": "eq"}}},
        {"data": {"name": "notes"}, "transform": [{"filter": "datum.panel == 'BR'"}],
         "mark": {"type": "text", "align": "left", "baseline": "alphabetic", "fontSize": 27, "font": "Liberation Sans", "color": "#333"},
         "encoding": {"x": {"datum": 0.01789, "type": "quantitative", "axis": {"title": null, "values": [0.02, 0.025, 0.03, 0.035, 0.04, 0.045, 0.05], "labelExpr": "round(datum.value*1000) % 10 == 0 ? toString(round(datum.value*100)/100) : ''"}}, "y": {"datum": 0.688, "type": "quantitative", "axis": null}, "text": {"field": "r2"}}},
        {"data": {"name": "notes"}, "transform": [{"filter": "datum.panel == 'BR'"}],
         "mark": {"type": "text", "align": "left", "baseline": "alphabetic", "fontSize": 27, "font": "Liberation Sans", "fontStyle": "italic", "color": "black", "text": "p"},
         "encoding": {"x": {"datum": 0.01796, "type": "quantitative", "axis": {"title": null, "values": [0.02, 0.025, 0.03, 0.035, 0.04, 0.045, 0.05], "labelExpr": "round(datum.value*1000) % 10 == 0 ? toString(round(datum.value*100)/100) : ''"}}, "y": {"datum": 0.546, "type": "quantitative", "axis": null}}},
        {"data": {"name": "notes"}, "transform": [{"filter": "datum.panel == 'BR'"}],
         "mark": {"type": "text", "align": "left", "baseline": "alphabetic", "fontSize": 27, "font": "Liberation Sans", "color": "black"},
         "encoding": {"x": {"datum": 0.01947, "type": "quantitative", "axis": {"title": null, "values": [0.02, 0.025, 0.03, 0.035, 0.04, 0.045, 0.05], "labelExpr": "round(datum.value*1000) % 10 == 0 ? toString(round(datum.value*100)/100) : ''"}}, "y": {"datum": 0.546, "type": "quantitative", "axis": null}, "text": {"field": "p"}}}
      ]
    }
  ]
}
